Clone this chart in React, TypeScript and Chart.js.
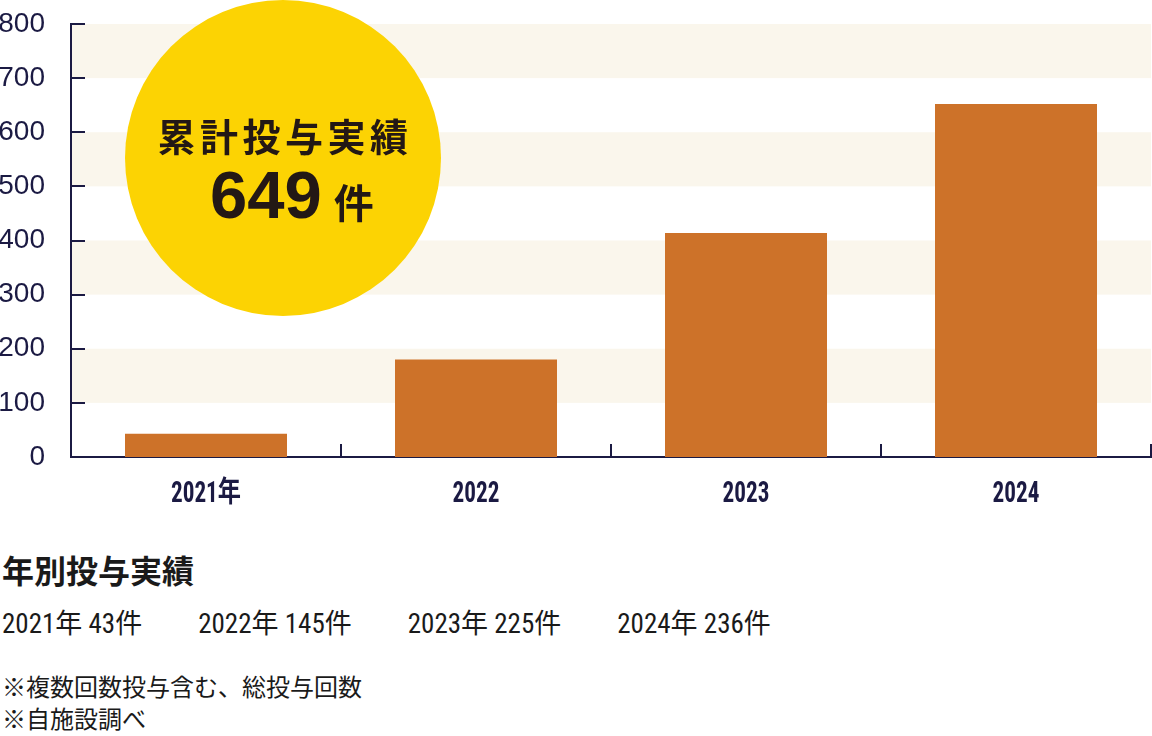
import { useEffect, useRef } from "react"
import { Chart, registerables } from "chart.js"

Chart.register(...registerables)

// cumulative totals
const years = ["2021年", "2022", "2023", "2024"]
const cumulative = [43, 180, 414, 652]
const yTicks = [0, 100, 200, 300, 400, 500, 600, 700, 800]

// per-year breakdown shown under the chart
const breakdownYears = ["2021年", "2022年", "2023年", "2024年"]
const breakdownCounts = [43, 145, 225, 236]

const NAVY = "#1b1a43"
const STRIPE = "#faf6ec"
const BAR = "#cd7229"
const NARROW = '"Liberation Sans Narrow", "Roboto Condensed", "DejaVu Sans Condensed", "Noto Sans CJK JP", sans-serif'
const JP = '"Noto Sans CJK JP", "Noto Sans", sans-serif'

const stripes = {
  id: "stripes",
  beforeDraw(chart: any) {
    const { ctx, chartArea } = chart
    const y = chart.scales.y
    ctx.save()
    ctx.fillStyle = STRIPE
    for (let i = 1; i < yTicks.length - 1; i += 2) {
      const top = y.getPixelForValue(yTicks[i + 1])
      const bottom = y.getPixelForValue(yTicks[i])
      ctx.fillRect(chartArea.left, top, chartArea.right - chartArea.left, bottom - top)
    }
    ctx.restore()
  },
}

// tick marks pointing into the plot area, plus condensed category labels
const innerTicks = {
  id: "innerTicks",
  afterDraw(chart: any) {
    const { ctx, chartArea } = chart
    const x = chart.scales.x
    const y = chart.scales.y
    ctx.save()
    ctx.strokeStyle = NAVY
    ctx.lineWidth = 2
    ctx.beginPath()
    for (let i = 1; i < yTicks.length; i++) {
      const py = Math.round(y.getPixelForValue(yTicks[i]))
      ctx.moveTo(chartArea.left, py)
      ctx.lineTo(chartArea.left + 14, py)
    }
    for (let i = 1; i <= years.length; i++) {
      const px = Math.round(x.getPixelForValue(i - 0.5))
      ctx.moveTo(px, chartArea.bottom)
      ctx.lineTo(px, chartArea.bottom - 13)
    }
    ctx.stroke()

    ctx.fillStyle = NAVY
    ctx.font = `bold 29px ${NARROW}`
    ctx.textAlign = "center"
    ctx.textBaseline = "alphabetic"
    years.forEach((label, i) => {
      ctx.save()
      ctx.translate(x.getPixelForValue(i), chartArea.bottom + 45)
      ctx.scale(0.8, 1)
      ctx.fillText(label, 0, 0)
      ctx.restore()
    })
    ctx.restore()
  },
}

function BarChart() {
  const chartRef = useRef<HTMLCanvasElement>(null)
  const chartInstance = useRef<Chart | null>(null)

  useEffect(() => {
    if (!chartRef.current) return
    if (chartInstance.current) chartInstance.current.destroy()
    const ctx = chartRef.current.getContext("2d")
    if (!ctx) return
    chartInstance.current = new Chart(ctx, {
      type: "bar",
      data: {
        labels: years,
        datasets: [
          {
            data: cumulative,
            backgroundColor: BAR,
            borderWidth: 0,
            barPercentage: 1,
            categoryPercentage: 0.6,
          },
        ],
      },
      options: {
        responsive: true,
        maintainAspectRatio: false,
        animation: false,
        layout: { padding: { top: 24, right: 1, bottom: 63, left: 0 } },
        plugins: {
          legend: { display: false },
          tooltip: { enabled: false },
        },
        scales: {
          x: {
            grid: { display: false, drawTicks: false },
            border: { display: true, color: NAVY, width: 2 },
            ticks: { display: false },
          },
          y: {
            min: 0,
            max: 800,
            grid: { display: false, drawTicks: false },
            border: { display: true, color: NAVY, width: 2 },
            afterFit(scale: any) {
              scale.width = 74
              scale.paddingTop = 0
              scale.paddingBottom = 0
            },
            ticks: {
              stepSize: 100,
              color: NAVY,
              padding: 26,
              font: { family: '"Liberation Sans", Arial, sans-serif', size: 28 },
            },
          },
        },
      },
      plugins: [stripes, innerTicks],
    })
    return () => {
      if (chartInstance.current) {
        chartInstance.current.destroy()
        chartInstance.current = null
      }
    }
  }, [])

  return (
    <div style={{ position: "absolute", left: -3, top: 0, width: 1155, height: 520 }}>
      <canvas ref={chartRef}></canvas>
    </div>
  )
}

export default function App() {
  const total = breakdownCounts.reduce((a, b) => a + b, 0)
  return (
    <div style={{ position: "absolute", left: 0, top: 0, width: 1152, height: 736, overflow: "hidden", background: "#fff", color: "#1a1a1a" }}>
      <BarChart />
      <div
        style={{
          position: "absolute",
          left: 125,
          top: 0,
          width: 316,
          height: 316,
          borderRadius: "50%",
          background: "#fcd303",
          color: "#231815",
        }}
      >
        <div
          style={{
            position: "absolute",
            left: 0,
            top: 116,
            width: 316,
            textAlign: "center",
            font: `bold 38px ${JP}`,
            lineHeight: 1,
            letterSpacing: 4.5,
            paddingLeft: 4,
            boxSizing: "border-box",
          }}
        >
          累計投与実績
        </div>
        <div
          style={{
            position: "absolute",
            left: 85,
            top: 161,
            display: "flex",
            alignItems: "baseline",
            lineHeight: 1,
          }}
        >
          <span style={{ font: 'bold 67px "Liberation Sans", Arial, sans-serif', lineHeight: 1 }}>{total}</span>
          <span style={{ font: `bold 40px ${JP}`, lineHeight: 1, marginLeft: 12 }}>件</span>
        </div>
      </div>
      <div style={{ position: "absolute", left: 2, top: 553, font: `bold 32px ${JP}`, lineHeight: 1 }}>年別投与実績</div>
      <div style={{ position: "absolute", left: 2, top: 611, display: "flex", gap: 56, font: `27px ${NARROW}`, lineHeight: 1 }}>
        {breakdownYears.map((y, i) => (
          <span key={y}>
            {y} {breakdownCounts[i]}件
          </span>
        ))}
      </div>
      <div style={{ position: "absolute", left: 2, top: 674, font: `24px ${JP}`, lineHeight: 1 }}>※複数回数投与含む、総投与回数</div>
      <div style={{ position: "absolute", left: 2, top: 706, font: `24px ${JP}`, lineHeight: 1 }}>※自施設調べ</div>
    </div>
  )
}
